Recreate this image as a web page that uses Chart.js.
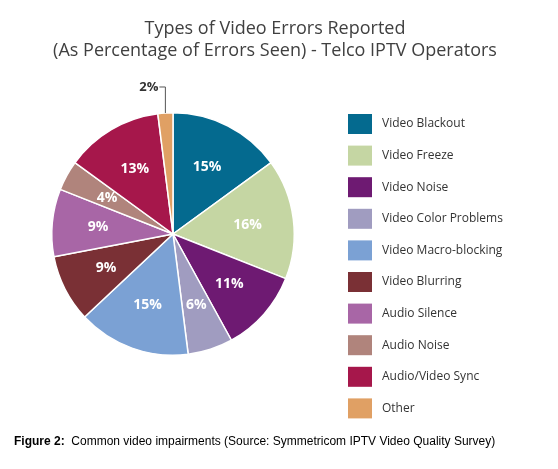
<!DOCTYPE html><html><head><meta charset="utf-8">
<script src="https://cdn.jsdelivr.net/npm/chart.js@4"></script>
<style>html,body{margin:0;padding:0;background:#fff}#w{width:558px;height:469px}</style></head><body><div id="w"><canvas id="c"></canvas></div>
<script>
const categories=["Video Blackout","Video Freeze","Video Noise","Video Color Problems","Video Macro-blocking","Video Blurring","Audio Silence","Audio Noise","Audio/Video Sync","Other"];
const values=[15,16,11,6,15,9,9,4,13,2];
const colors=["#046a8f","#c5d6a3","#6e1a72","#a09cc0","#7ba1d4","#7a3035","#a866a6","#b0847c","#a6174b","#e0a064"];
const titleLines=["Types of Video Errors Reported","(As Percentage of Errors Seen) - Telco IPTV Operators"];
const deco={id:'deco',afterDraw(ch){
 const x=ch.ctx;const meta=ch.getDatasetMeta(0);
 x.save();x.textAlign='center';x.textBaseline='middle';
 x.fillStyle='#404040';x.font='18px "Open Sans", sans-serif';
 x.fillText(titleLines[0],275,29);x.fillText(titleLines[1],275,51);
 meta.data.forEach((a,i)=>{const m=(a.startAngle+a.endAngle)/2;
  if(values[i]<3){x.fillStyle='#333';x.font='bold 13px "Open Sans", sans-serif';
   const ex=a.x+Math.cos(m)*a.outerRadius,ey=a.y+Math.sin(m)*a.outerRadius;
   x.strokeStyle='#555';x.lineWidth=1;x.beginPath();x.moveTo(ex,ey);x.lineTo(ex,ey-26);x.lineTo(ex-6,ey-26);x.stroke();
   x.textAlign='right';x.fillText(values[i]+'%',ex-7,ey-26);x.textAlign='center';return;}
  const r=a.outerRadius*0.62;x.fillStyle='#fff';x.font='bold 14px "Open Sans", sans-serif';
  x.fillText(values[i]+'%',a.x+Math.cos(m)*r,a.y+Math.sin(m)*r);});
 x.textAlign='left';x.font='12px "Open Sans", sans-serif';
 categories.forEach((c,i)=>{const y=124+i*31.6;x.fillStyle=colors[i];x.fillRect(348,y-10,24,20);x.fillStyle='#333';x.fillText(c,382,y);});
 x.font='bold 12px Arial, "Liberation Sans", sans-serif';x.fillStyle='#000';x.fillText('Figure 2:',14,442);
 const w=x.measureText('Figure 2:  ').width;x.font='12px Arial, "Liberation Sans", sans-serif';
 x.fillText('Common video impairments (Source: Symmetricom IPTV Video Quality Survey)',14+w,442);
 x.restore();}};
new Chart(document.getElementById('c'),{type:'pie',data:{labels:categories,datasets:[{data:values,backgroundColor:colors,borderColor:'#fff',borderWidth:1.5}]},
 options:{responsive:true,maintainAspectRatio:false,animation:false,layout:{padding:{left:51,top:112,right:263,bottom:113}},
 plugins:{legend:{display:false},tooltip:{enabled:false}}},plugins:[deco]});
</script></body></html>
